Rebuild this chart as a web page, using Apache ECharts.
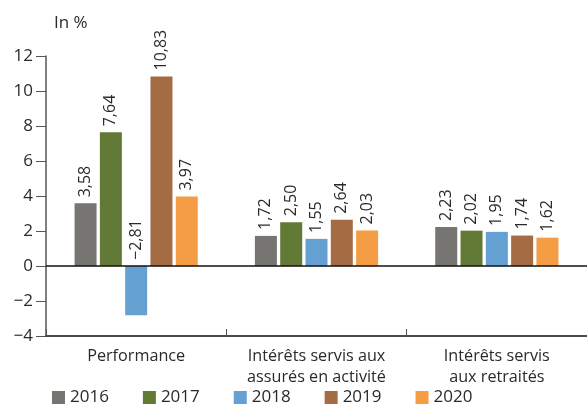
<!DOCTYPE html>
<html>
<head>
<meta charset="utf-8">
<script src="https://cdn.jsdelivr.net/npm/echarts@6/dist/echarts.min.js"></script>
<style>
  html, body { margin: 0; padding: 0; background: #fff; }
  #chart { width: 587px; height: 409px; }
</style>
</head>
<body>
<div id="chart"></div>
<script>
// Rendement et intérêts servis, en %
const categories = ['Performance', 'Intérêts servis aux\nassurés en activité', 'Intérêts servis\naux retraités'];
const years = ['2016', '2017', '2018', '2019', '2020'];
const values2016 = [3.58, 1.72, 2.23];
const values2017 = [7.64, 2.50, 2.02];
const values2018 = [-2.81, 1.55, 1.95];
const values2019 = [10.83, 2.64, 1.74];
const values2020 = [3.97, 2.03, 1.62];
const yTicks = { min: -4, max: 12, interval: 2 };

const seriesValues = [values2016, values2017, values2018, values2019, values2020];
const colors = ['#777571', '#627a35', '#65a0d3', '#a56b43', '#f49d45'];
const FONT = '"Open Sans", "Noto Sans", sans-serif';
const TEXT = '#2a2a2a';

function fmt(v) {
  const s = Math.abs(v).toFixed(2).replace('.', ',');
  return v < 0 ? '\u2212' + s : s;
}

const chart = echarts.init(document.getElementById('chart'), null, { renderer: 'canvas' });

const series = years.map((y, i) => ({
  name: y,
  type: 'bar',
  data: seriesValues[i],
  barWidth: 22,
  barGap: '15%',
  itemStyle: { color: colors[i] },
  label: {
    show: true,
    position: 'top',
    rotate: 90,
    align: 'left',
    verticalAlign: 'middle',
    distance: 6,
    fontFamily: FONT,
    fontSize: 16,
    color: TEXT,
    formatter: p => fmt(p.value)
  },
  markLine: i === 0 ? {
    silent: true,
    symbol: 'none',
    label: { show: false },
    lineStyle: { color: '#111', width: 1.5, type: 'solid' },
    data: [{ yAxis: 0 }]
  } : undefined
}));

chart.setOption({
  animation: false,
  textStyle: { fontFamily: FONT },
  graphic: [{
    type: 'text',
    left: 54,
    top: 15,
    style: { text: 'In %', fontFamily: FONT, fontSize: 17, fill: TEXT }
  }],
  legend: {
    data: years,
    left: 47,
    bottom: -2,
    icon: 'rect',
    itemWidth: 13,
    itemHeight: 13,
    itemGap: 34,
    textStyle: { fontFamily: FONT, fontSize: 17, color: TEXT }
  },
  grid: { left: 46, right: -2, top: 56, bottom: 73, containLabel: false },
  xAxis: {
    type: 'category',
    data: categories,
    axisLine: { onZero: false, lineStyle: { color: '#111', width: 1.5 } },
    axisTick: { show: true, inside: true, length: 7, interval: 0, lineStyle: { color: '#555' } },
    axisLabel: { interval: 0, fontFamily: FONT, fontSize: 16.2, color: TEXT, margin: 10, lineHeight: 21 }
  },
  yAxis: {
    type: 'value',
    min: yTicks.min,
    max: yTicks.max,
    interval: yTicks.interval,
    axisLine: { show: true, lineStyle: { color: '#555', width: 1.5 } },
    axisTick: { show: true, inside: false, length: 10, lineStyle: { color: '#555' } },
    splitLine: { show: false },
    axisLabel: {
      fontFamily: FONT, fontSize: 17, color: TEXT, margin: 13,
      formatter: v => (v < 0 ? '\u2212' + Math.abs(v) : String(v))
    }
  },
  series: series
});
</script>
</body>
</html>
